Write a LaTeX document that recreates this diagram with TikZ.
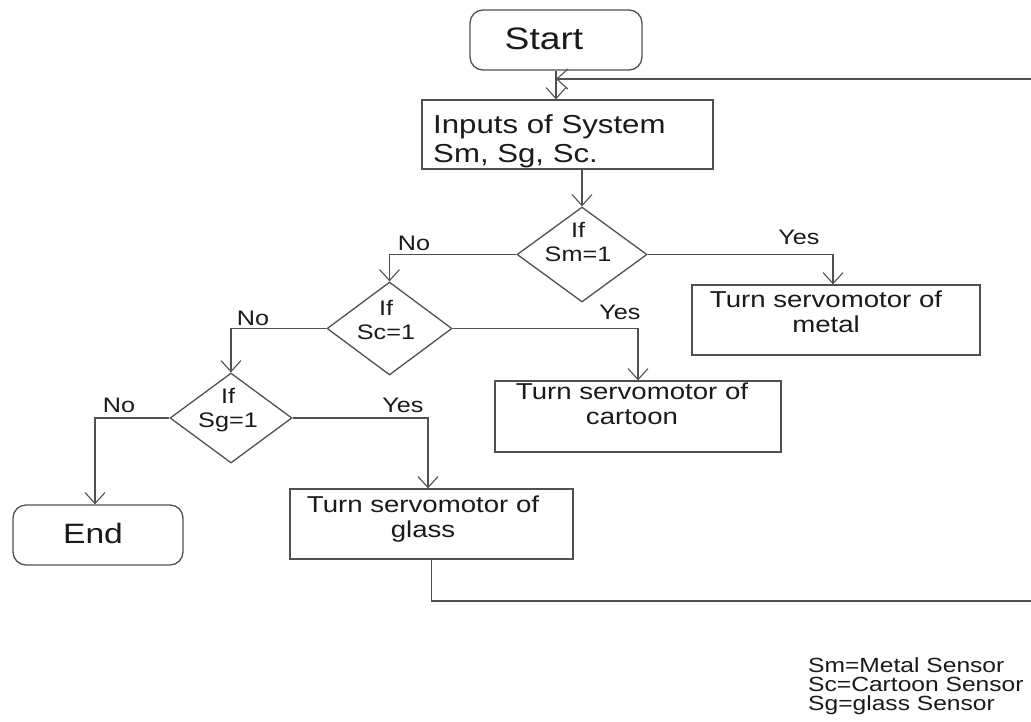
\documentclass[tikz,border=0pt]{standalone}
\usepackage{fontspec}
\setmainfont{Liberation Sans}[FakeStretch=1.2]
\usetikzlibrary{shapes.geometric,arrows.meta}
\definecolor{ln}{HTML}{505050}
\definecolor{tx}{HTML}{1A1A1A}
\begin{document}
\begin{tikzpicture}[x=1pt,y=-1pt,
  line/.style={draw=ln, line width=1.3pt},
  arr/.style={line, -{Straight Barb[length=11pt,width=20pt,line width=1.1pt]}},
  term/.style={draw=ln, line width=1.3pt, rounded corners=13pt, inner sep=0pt},
  proc/.style={draw=ln, line width=1.3pt, inner sep=0pt},
  dec/.style={diamond, draw=ln, line width=1.3pt, inner sep=0pt},
  txt/.style={inner sep=0pt, align=center, text=tx},
  boxtxt/.style={txt, font=\fontsize{23}{25}\selectfont},
  dectxt/.style={txt, font=\fontsize{21}{24}\selectfont},
  lbl/.style={txt, font=\fontsize{21}{24}\selectfont},
]
\useasboundingbox[fill=white] (0,0) rectangle (1031,721);

% shapes
\node[term, minimum width=172pt, minimum height=60pt] (start) at (556,40) {};
\node[txt, font=\fontsize{31}{34}\selectfont] (startt) at (544,39) {Start};

\node[proc, minimum width=291pt, minimum height=69pt] (inputs) at (567.5,134.5) {};
\node[txt, align=left, anchor=west, font=\fontsize{26}{29}\selectfont] (inputst) at (433,141) {Inputs of System\\Sm, Sg, Sc.};

\node[dec, minimum width=130pt, minimum height=95pt] (sm) at (582,254.5) {};
\node[dectxt] (smt) at (578,242) {If\\Sm=1};

\node[dec, minimum width=125pt, minimum height=93pt] (sc) at (389.5,328.5) {};
\node[dectxt] (sct) at (386,320) {If\\Sc=1};

\node[dec, minimum width=122pt, minimum height=90pt] (sg) at (231,418) {};
\node[dectxt] (sgt) at (228,410) {If\\Sg=1};

\node[proc, minimum width=288pt, minimum height=70pt] (metal) at (836,320) {};
\node[boxtxt] (metalt) at (826,312) {Turn servomotor of\\metal};

\node[proc, minimum width=286pt, minimum height=71pt] (cartoon) at (638,416.5) {};
\node[boxtxt] (cartoont) at (632,404) {Turn servomotor of\\cartoon};

\node[proc, minimum width=283pt, minimum height=70pt] (glass) at (431.5,524) {};
\node[boxtxt] (glasst) at (423,519) {Turn servomotor of\\glass};

\node[term, minimum width=170pt, minimum height=60pt] (end) at (98,535) {};
\node[txt, font=\fontsize{28}{31}\selectfont] (endt) at (93,533) {End};

% connectors
\draw[arr] (start) -- (start |- inputs.north);
\draw[arr] (inputs.south -| sm) -- (sm.north);
\draw[arr] (sm.west) -| (sc.north);
\draw[arr] (sm.east) -| ([xshift=-3pt]metal.north);
\draw[arr] (sc.west) -| (sg.north);
\draw[arr] (sc.east) -| (cartoon.north);
\draw[arr] (sg.west) -| ([xshift=-3pt]end.north);
\draw[arr] (sg.east) -| ([xshift=-3.5pt]glass.north);

\coordinate (rb) at (1045,601);
\coordinate (rt) at (1045,79);
\draw[arr] (glass.south) |- (rb) -- (rt) -- (rt -| start.south);

% branch labels
\node[lbl] (no1) at (414,243.5) {No};
\node[lbl] (yes1) at (799,237.5) {Yes};
\node[lbl] (no2) at (253,318) {No};
\node[lbl] (yes2) at (620,312.5) {Yes};
\node[lbl] (no3) at (119,405.5) {No};
\node[lbl] (yes3) at (403,405.5) {Yes};

% legend
\node[txt, align=left, anchor=west, font=\fontsize{20.5}{19}\selectfont] (legend) at (808,686) {Sm=Metal Sensor\\Sc=Cartoon Sensor\\Sg=glass Sensor};
\end{tikzpicture}
\end{document}
